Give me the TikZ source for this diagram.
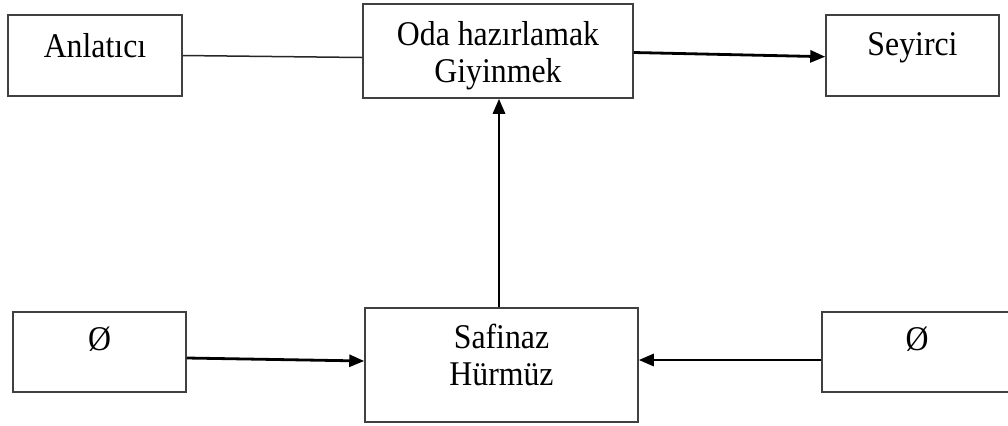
\documentclass[tikz,border=0pt]{standalone}
\usepackage{fontspec}
\setmainfont{Liberation Serif}
\usetikzlibrary{arrows.meta,calc}
\newcommand{\tallText}[1]{\scalebox{1}[1.09]{#1}}
\begin{document}
\begin{tikzpicture}[x=0.5pt,y=-0.5pt,
  box/.style={draw=black!75,line width=0.75pt,rectangle,inner sep=0pt},
  lbl/.style={anchor=base,inner sep=0pt,font=\fontsize{15.9}{18.5}\selectfont},
  link/.style={draw=black!85,line width=0.75pt},
  flow/.style={draw=black,line width=1.4pt,-{Triangle[length=7.5pt,width=6pt]}}]
\useasboundingbox (0,0) rectangle (1008,425);

% boxes (centres and sizes in pixel units)
\node[box,minimum width=87pt,minimum height=40.5pt] (anl) at (95,55.5) {};
\node[box,minimum width=135pt,minimum height=47pt] (oda) at (498,51) {};
\node[box,minimum width=86.5pt,minimum height=40.5pt] (sey) at (912.5,55.5) {};
\node[box,minimum width=86.5pt,minimum height=40pt] (bl) at (99.5,352) {};
\node[box,minimum width=136.5pt,minimum height=57pt] (saf) at (501.5,365) {};
\node[box,minimum width=95pt,minimum height=40pt] (br) at (917,352) {};

% texts
\node[lbl] at (95,57) {\tallText{Anlatıcı}};
\node[lbl] at (498,45) {\tallText{Oda hazırlamak}};
\node[lbl] at (498,82) {\tallText{Giyinmek}};
\node[lbl] at (912.5,55) {\tallText{Seyirci}};
\node[lbl] at (99.5,350) {\tallText{Ø}};
\node[lbl] at (501.5,348) {\tallText{Safinaz}};
\node[lbl] at (501.5,385) {\tallText{Hürmüz}};
\node[lbl] at (917,350) {\tallText{Ø}};

% connectors
\draw[link] (anl.east) -- ([yshift=-3.25pt]oda.west);
\draw[flow] ([yshift=-0.75pt]oda.east) -- ([yshift=-0.6pt]sey.west);
\draw[flow] ([yshift=-3pt]bl.east) -- ([yshift=2pt]saf.west);
\draw[flow] ([yshift=-4pt]br.west) -- ([yshift=2.5pt]saf.east);
\draw[flow] ([xshift=-1.25pt]saf.north) -- ([xshift=0.5pt]oda.south);
\end{tikzpicture}
\end{document}
